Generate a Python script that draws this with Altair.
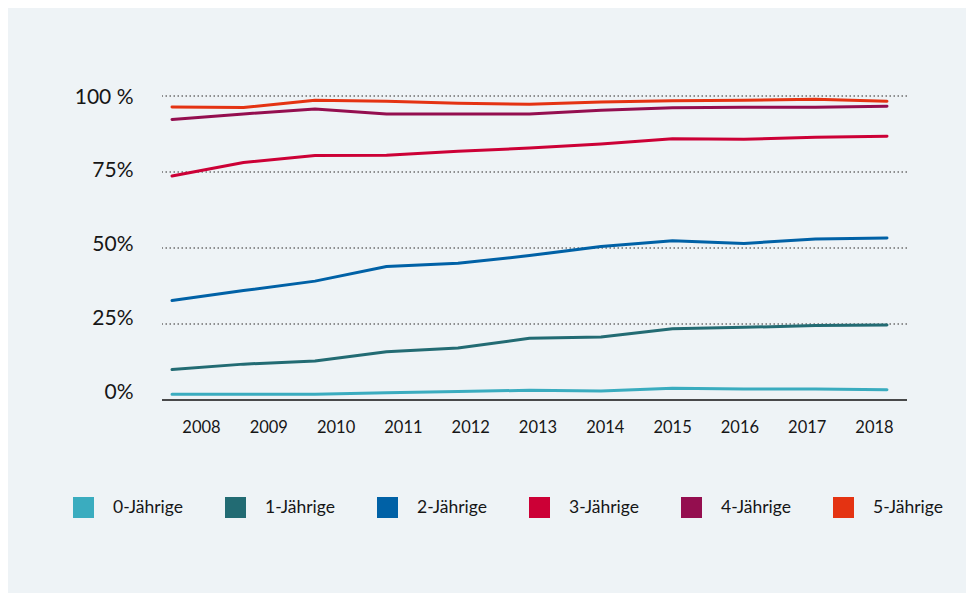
import altair as alt
import pandas as pd

years = [2008, 2009, 2010, 2011, 2012, 2013, 2014, 2015, 2016, 2017, 2018]
series = ["0-Jährige", "1-Jährige", "2-Jährige", "3-Jährige", "4-Jährige", "5-Jährige"]
colors = ["#3aacbf", "#226b73", "#0061a6", "#cc0036", "#940e4f", "#e43312"]

v0 = [1.9, 1.9, 1.9, 2.4, 2.8, 3.2, 3.0, 3.9, 3.6, 3.6, 3.4]
v1 = [10.0, 11.8, 12.8, 15.9, 17.1, 20.3, 20.7, 23.4, 23.9, 24.5, 24.7]
v2 = [32.7, 36.0, 39.1, 43.9, 45.0, 47.5, 50.5, 52.4, 51.5, 53.0, 53.3]
v3 = [73.7, 78.1, 80.4, 80.5, 81.8, 82.9, 84.2, 85.9, 85.8, 86.4, 86.8]
v4 = [92.3, 94.1, 95.7, 94.1, 94.1, 94.1, 95.3, 96.1, 96.3, 96.3, 96.6]
v5 = [96.4, 96.2, 98.6, 98.3, 97.6, 97.3, 98.0, 98.4, 98.6, 98.9, 98.3]

grid_values = [25, 50, 75, 100]
y_ticks = [0, 25, 50, 75, 100]

values = [v0, v1, v2, v3, v4, v5]
rows = []
for s, vals in zip(series, values):
    for y, v in zip(years, vals):
        rows.append({"Jahr": y, "Anteil": v, "Alter": s})
df = pd.DataFrame(rows)
grid_df = pd.DataFrame({"g": grid_values})
base_df = pd.DataFrame({"b": [0]})

TEXT = "#161616"
color_scale = alt.Scale(domain=series, range=colors)

# label layer (axes + legend only, marks invisible)
labels = alt.Chart(df).mark_square(filled=True, opacity=0).encode(
    x=alt.X("Jahr:O", title=None,
            scale=alt.Scale(type="point", range=[39, 712], padding=0),
            axis=alt.Axis(domain=False, ticks=False, tickSize=0, grid=False,
                          labelAngle=0, labelFontSize=16.5, labelColor=TEXT,
                          labelBaseline="middle", labelPadding=27)),
    y=alt.Y("Anteil:Q", title=None,
            scale=alt.Scale(domain=[0, 100], range=[296, 1], nice=False),
            axis=alt.Axis(values=y_ticks, domain=False, ticks=False, tickSize=0,
                          grid=False, labelFontSize=21, labelColor=TEXT,
                          labelBaseline="middle", labelAlign="right", labelPadding=29,
                          labelExpr="datum.value == 100 ? '100 %' : datum.value + '%'")),
    color=alt.Color(
        "Alter:N", scale=color_scale, sort=series,
        legend=alt.Legend(
            orient="none", legendX=-89, legendY=401, direction="horizontal",
            title=None, symbolType="square", symbolSize=441, symbolStrokeWidth=0,
            symbolOpacity=1, labelFontSize=17.5, labelColor=TEXT, labelOffset=19,
            columnPadding=42,
        ),
    ),
)

ys = alt.Scale(domain=[0, 100], nice=False, zero=True)
xs = alt.Scale(domain=[2007.86, 2018.28], nice=False, zero=False)

grid = alt.Chart(grid_df).mark_rule(
    color="#6e6e6e", strokeWidth=1.4, strokeDash=[1.5, 2.5]
).encode(y=alt.Y("g:Q", scale=ys, axis=None))

baseline = alt.Chart(base_df).mark_rule(color="#111111", strokeWidth=1.5).encode(
    y=alt.Y("b:Q", scale=ys, axis=None)
)

lines = alt.Chart(df).mark_line(strokeWidth=3, strokeCap="round", strokeJoin="round").encode(
    x=alt.X("Jahr:Q", scale=xs, axis=None),
    y=alt.Y("Anteil:Q", scale=ys, axis=None),
    color=alt.Color("Alter:N", scale=color_scale, sort=series, legend=None),
)

data_layer = alt.layer(grid, baseline, lines)

chart = alt.layer(labels, data_layer).resolve_scale(
    x="independent", y="independent"
).properties(
    width=745, height=304,
    background="#eef3f6",
    padding={"left": 154, "top": 88, "right": 59, "bottom": 193},
    autosize=alt.AutoSizeParams(type="none"),
).configure(font="Lato").configure_view(stroke=None).configure_legend(padding=0)

chart.save("out.html", embed_options={"renderer": "svg", "actions": False})
